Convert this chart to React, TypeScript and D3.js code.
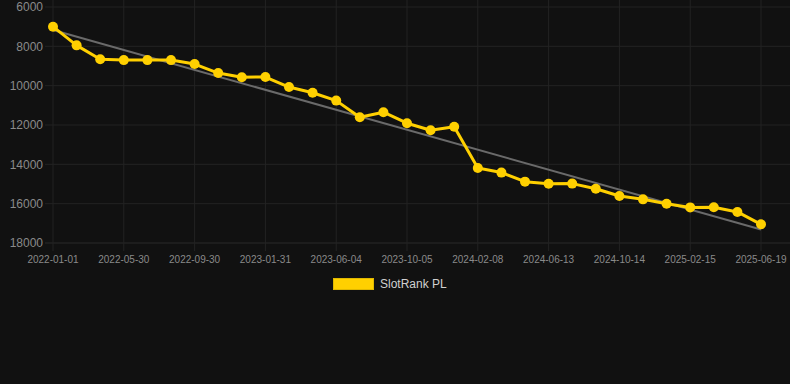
import React from 'react';
import * as d3 from 'd3';

// category dates (only every third one is labelled on the axis)
const dates = [
  '2022-01-01', '2022-02-19', '2022-04-09', '2022-05-30', '2022-07-10', '2022-08-20',
  '2022-09-30', '2022-11-10', '2022-12-21', '2023-01-31', '2023-03-13', '2023-04-24',
  '2023-06-04', '2023-07-15', '2023-08-25', '2023-10-05', '2023-11-16', '2023-12-28',
  '2024-02-08', '2024-03-20', '2024-05-02', '2024-06-13', '2024-07-24', '2024-09-03',
  '2024-10-14', '2024-11-24', '2025-01-05', '2025-02-15', '2025-03-28', '2025-05-09',
  '2025-06-19',
];

// rank values (lower is better, axis is reversed)
const ranks = [
  7000, 7950, 8660, 8700, 8700, 8700, 8900, 9360, 9570, 9560, 10070, 10360,
  10760, 11610, 11350, 11910, 12270, 12090, 14190, 14420, 14880, 14990, 14980, 15240,
  15610, 15780, 16000, 16190, 16180, 16420, 17050,
];

const yTicks = [6000, 8000, 10000, 12000, 14000, 16000, 18000];
const seriesName = 'SlotRank PL';

const W = 790;
const H = 384;
const margin = { top: 7, right: 29, bottom: 141, left: 53 };
const YELLOW = '#FFD000';
const GRID = '#232323';
const TICK_COLOR = '#8a8a8a';
const FONT = 'Liberation Sans, Arial, sans-serif';

export default function App() {
  const x = d3.scalePoint<string>().domain(dates).range([margin.left, W - margin.right]);
  const y = d3.scaleLinear().domain([6000, 18000]).range([margin.top, H - margin.bottom]);

  const line = d3.line<number>()
    .x((_, i) => x(dates[i]) as number)
    .y(d => y(d));

  // least squares trend over the index
  const n = ranks.length;
  const meanI = (n - 1) / 2;
  const meanV = d3.mean(ranks) as number;
  let num = 0;
  let den = 0;
  ranks.forEach((v, i) => {
    num += (i - meanI) * (v - meanV);
    den += (i - meanI) * (i - meanI);
  });
  const slope = num / den;
  const intercept = meanV - slope * meanI;
  const trendStart = intercept;
  const trendEnd = intercept + slope * (n - 1);

  const xLabels = dates.filter((_, i) => i % 3 === 0);
  const bottom = H - margin.bottom;

  return (
    <svg width={W} height={H} style={{ position: 'absolute', left: 0, top: 0, background: '#111111' }}>
      <rect x={0} y={0} width={W} height={H} fill="#111111" />
      {/* grid */}
      {yTicks.map(t => (
        <line key={'h' + t} x1={margin.left - 8} x2={W} y1={y(t)} y2={y(t)} stroke={t === 18000 ? '#2a2a2a' : GRID} strokeWidth={1} />
      ))}
      {xLabels.map(d => (
        <line key={'v' + d} x1={x(d)} x2={x(d)} y1={0} y2={bottom + 8} stroke={GRID} strokeWidth={1} />
      ))}
      {/* y tick labels */}
      {yTicks.map(t => (
        <text key={'yl' + t} x={margin.left - 10} y={y(t)} dy="0.35em" textAnchor="end"
          fill={TICK_COLOR} fontSize={12} fontFamily={FONT}>{t}</text>
      ))}
      {/* x tick labels */}
      {xLabels.map(d => (
        <text key={'xl' + d} x={x(d)} y={bottom + 20} textAnchor="middle"
          fill={TICK_COLOR} fontSize={10} fontFamily={FONT}>{d}</text>
      ))}
      {/* trend line */}
      <line x1={x(dates[0])} x2={x(dates[n - 1])} y1={y(trendStart)} y2={y(trendEnd)}
        stroke="#6a6a6a" strokeWidth={2} />
      {/* series */}
      <path d={line(ranks) || ''} fill="none" stroke={YELLOW} strokeWidth={3} strokeLinejoin="round" />
      {ranks.map((v, i) => (
        <circle key={'p' + i} cx={x(dates[i])} cy={y(v)} r={5} fill={YELLOW} />
      ))}
      {/* legend */}
      <rect x={333.5} y={278.5} width={40} height={11} fill={YELLOW} stroke="#e0b800" strokeWidth={1} />
      <text x={380} y={284} dy="0.35em" fill="#d0d0d0" fontSize={12} fontFamily={FONT}>{seriesName}</text>
    </svg>
  );
}
